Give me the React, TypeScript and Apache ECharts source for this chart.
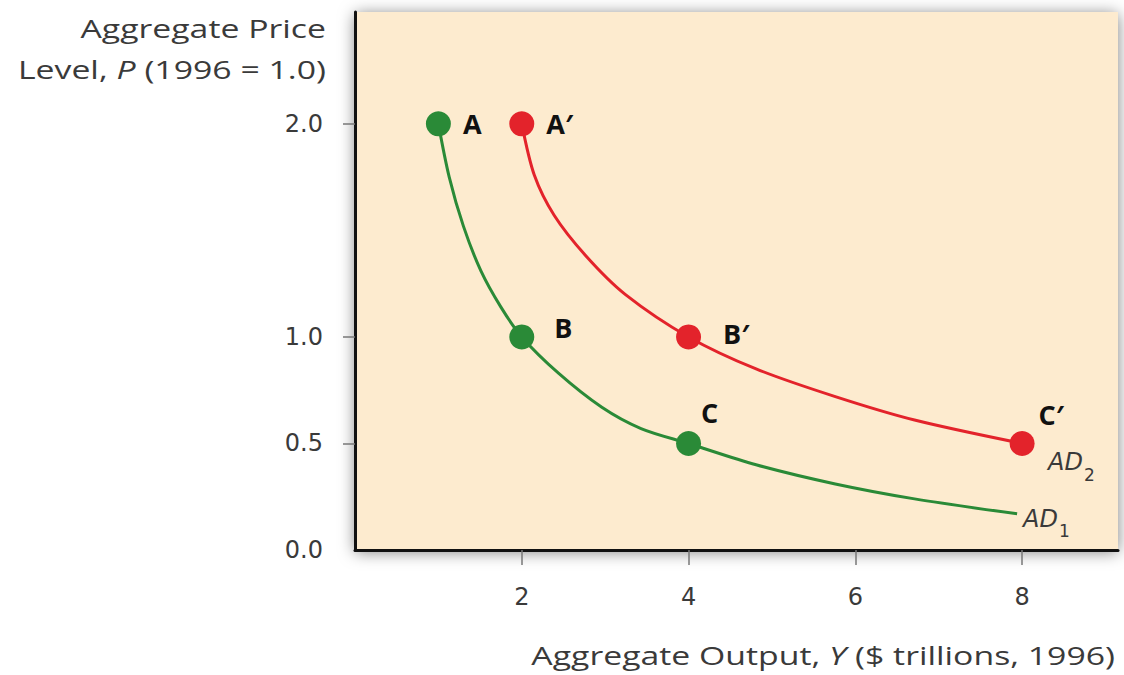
import React, { useEffect, useRef } from "react";
import * as echarts from "echarts";

const X_TICKS = [2, 4, 6, 8];
const Y_TICKS = [0.5, 1, 2];
const Y_LABELS = [0, 0.5, 1, 2];

const AD1_CURVE: [number, number][] = [
  [1, 2], [1.13, 1.75], [1.3, 1.52], [1.51, 1.31], [1.75, 1.14], [2, 1], [2.44, 0.83], [2.96, 0.67],
  [3.43, 0.57], [4, 0.5], [4.81, 0.4], [5.76, 0.31], [6.71, 0.24], [7.94, 0.17],
];
const AD2_CURVE: [number, number][] = [
  [2, 2], [2.15, 1.76], [2.39, 1.57], [2.77, 1.38], [3.24, 1.2], [4, 1], [4.81, 0.85], [5.76, 0.72],
  [6.71, 0.61], [8, 0.5],
];

const AD1_POINTS: [number, number][] = [[1, 2], [2, 1], [4, 0.5]];
const AD1_NAMES = ["A", "B", "C"];
const AD2_POINTS: [number, number][] = [[2, 2], [4, 1], [8, 0.5]];
const AD2_NAMES = ["A\u2032", "B\u2032", "C\u2032"];

const FONT = "'DejaVu Sans', 'Open Sans', sans-serif";
const TFONT = "'Open Sans', 'Noto Sans', sans-serif";
const GREEN = "#2a8a37";
const RED = "#e3232b";
const TXT = "#3a3a3a";

const GREEN_LABEL_POS = [
  { distance: 12, offset: [0, 0] },
  { distance: 20, offset: [0, -9] },
  { distance: 0, offset: [0, -31] },
];
const RED_LABEL_POS = [
  { distance: 12, offset: [0, 0] },
  { distance: 22, offset: [0, -3] },
  { distance: 4, offset: [0, -29] },
];

const subRich = {
  a: { fontSize: 24, fontStyle: "italic", fontFamily: FONT, color: TXT, lineHeight: 30, verticalAlign: "top" },
  s: { fontSize: 17, fontFamily: FONT, color: TXT, lineHeight: 20, padding: [16, 0, 0, 1], verticalAlign: "top" },
};

export default function App() {
  const ref = useRef<HTMLDivElement>(null);
  useEffect(() => {
    if (!ref.current) return;
    const chart = echarts.init(ref.current, null, { renderer: "svg" });
    const mkPoints = (pts: [number, number][], names: string[], pos: any[]) =>
      pts.map((p, i) => ({
        value: p,
        name: names[i],
        label: { distance: pos[i].distance, offset: pos[i].offset },
      }));
    const italic = { i: { fontStyle: "italic", fontSize: 26, fontFamily: TFONT, fill: TXT } };
    const titleText = (text: string, x: number, y: number) => ({
      type: "text",
      x,
      y,
      scaleX: 1.3,
      style: {
        text,
        fontSize: 26,
        fontFamily: TFONT,
        fill: TXT,
        align: "right",
        verticalAlign: "middle",
        rich: italic,
      },
    });
    chart.setOption({
      animation: false,
      backgroundColor: "#ffffff",
      grid: {
        left: 355,
        top: 12,
        width: 763,
        height: 538,
        show: true,
        backgroundColor: "#fdebcf",
        borderWidth: 0,
        shadowColor: "rgba(0,0,0,0.5)",
        shadowBlur: 16,
        shadowOffsetX: 0,
        shadowOffsetY: 2,
      },
      xAxis: {
        type: "value",
        min: 0,
        max: 9.15,
        axisLine: { show: true, lineStyle: { color: "#111", width: 3 } },
        axisTick: { show: true, customValues: X_TICKS, length: 15, lineStyle: { color: "#777", width: 1.5 } },
        axisLabel: {
          customValues: X_TICKS,
          margin: 35,
          fontSize: 24,
          fontFamily: FONT,
          color: TXT,
        },
        splitLine: { show: false },
      },
      yAxis: {
        type: "value",
        min: 0,
        max: 2.525,
        axisLine: { show: true, lineStyle: { color: "#111", width: 3 } },
        axisTick: { show: true, customValues: Y_TICKS, length: 12, lineStyle: { color: "#777", width: 1.5 } },
        axisLabel: {
          customValues: Y_LABELS,
          margin: 32,
          fontSize: 24,
          fontFamily: FONT,
          color: TXT,
          formatter: (v: number) => v.toFixed(1),
        },
        splitLine: { show: false },
      },
      graphic: [
        titleText("Aggregate Price", 326, 28),
        titleText("Level, {i|P} (1996 = 1.0)", 326, 69),
        titleText("Aggregate Output, {i|Y} ($ trillions, 1996)", 1115, 655),
      ],
      series: [
        {
          type: "line",
          name: "AD1",
          data: AD1_CURVE,
          smooth: 0.3,
          showSymbol: false,
          lineStyle: { color: GREEN, width: 3 },
          endLabel: {
            show: true,
            formatter: "{a|AD}{s|1}",
            rich: subRich,
            distance: 6,
            offset: [0, 8],
          },
        },
        {
          type: "line",
          name: "AD2",
          data: AD2_CURVE,
          smooth: 0.3,
          showSymbol: false,
          lineStyle: { color: RED, width: 3 },
          endLabel: {
            show: true,
            formatter: "{a|AD}{s|2}",
            rich: subRich,
            distance: 6,
            offset: [20, 22],
          },
        },
        {
          type: "scatter",
          data: mkPoints(AD1_POINTS, AD1_NAMES, GREEN_LABEL_POS),
          symbolSize: 25,
          itemStyle: { color: GREEN, opacity: 1 },
          z: 5,
          label: {
            show: true,
            position: "right",
            formatter: "{b}",
            fontSize: 27,
            fontWeight: "bold",
            fontFamily: TFONT,
            color: "#111",
          },
        },
        {
          type: "scatter",
          data: mkPoints(AD2_POINTS, AD2_NAMES, RED_LABEL_POS),
          symbolSize: 25,
          itemStyle: { color: RED, opacity: 1 },
          z: 5,
          label: {
            show: true,
            position: "right",
            formatter: "{b}",
            fontSize: 27,
            fontWeight: "bold",
            fontFamily: TFONT,
            color: "#111",
          },
        },
      ],
    });
    return () => chart.dispose();
  }, []);
  return (
    <div
      ref={ref}
      style={{ position: "fixed", left: 0, top: 0, width: 1124, height: 675 }}
    />
  );
}
